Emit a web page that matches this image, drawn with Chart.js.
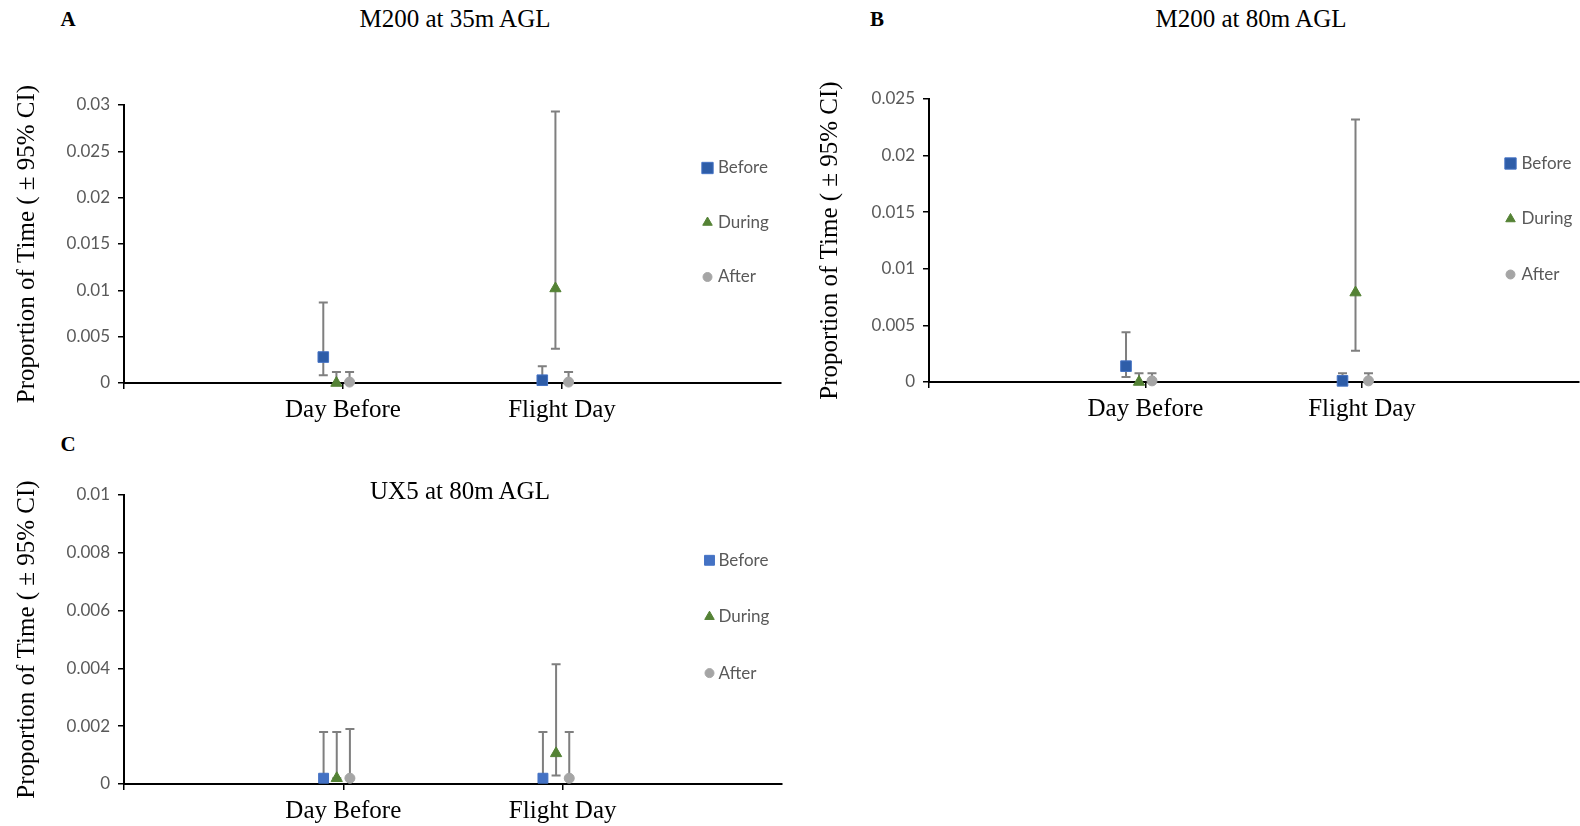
<!DOCTYPE html>
<html>
<head>
<meta charset="utf-8">
<script src="https://cdn.jsdelivr.net/npm/chart.js@4.4.1/dist/chart.umd.min.js"></script>
<style>
  html, body { margin: 0; padding: 0; background: #fff; overflow: hidden; width: 1580px; height: 826px; }
  canvas { position: absolute; }
  .lbl { position: absolute; font-family: "Liberation Serif", serif; color: #000; white-space: nowrap; transform: translate(-50%, -50%); }
  .panel { font-weight: bold; font-size: 21px; }
  .ttl { font-size: 25px; }
</style>
</head>
<body>
<div class="lbl panel" style="left:68px;top:19px">A</div>
<div class="lbl ttl" style="left:455px;top:19px">M200 at 35m AGL</div>
<div class="lbl panel" style="left:877px;top:19px">B</div>
<div class="lbl ttl" style="left:1251px;top:19px">M200 at 80m AGL</div>
<div class="lbl panel" style="left:68px;top:444px">C</div>

<canvas id="chartA" width="790" height="430" style="left:0;top:0"></canvas>
<canvas id="chartB" width="797" height="430" style="left:790px;top:0"></canvas>
<canvas id="chartC" width="790" height="406" style="left:0;top:420px"></canvas>
<div class="lbl ttl" style="left:460px;top:491px">UX5 at 80m AGL</div>

<script>
const categories = ["Day Before", "Flight Day"];
const seriesNames = ["Before", "During", "After"];

// A: M200 at 35m AGL
const aYMax = 0.03, aYStep = 0.005;
const aBefore     = [0.0028, 0.0003];
const aBeforeLow  = [0.00083, 0];
const aBeforeHigh = [0.0087, 0.0018];
const aDuring     = [0, 0.0102];
const aDuringLow  = [0, 0.0037];
const aDuringHigh = [0.0012, 0.0293];
const aAfter      = [0.0001, 0.0001];
const aAfterLow   = [0, 0];
const aAfterHigh  = [0.0012, 0.0012];

// B: M200 at 80m AGL
const bYMax = 0.025, bYStep = 0.005;
const bBefore     = [0.0014, 0.0001];
const bBeforeLow  = [0.00044, 0];
const bBeforeHigh = [0.0044, 0.00077];
const bDuring     = [0, 0.0079];
const bDuringLow  = [0, 0.00275];
const bDuringHigh = [0.00077, 0.0232];
const bAfter      = [0.0001, 0.0001];
const bAfterLow   = [0, 0];
const bAfterHigh  = [0.00077, 0.00077];

// C: UX5 at 80m AGL
const cYMax = 0.01, cYStep = 0.002;
const cBefore     = [0.0002, 0.0002];
const cBeforeLow  = [0.0002, 0.0002];
const cBeforeHigh = [0.0018, 0.0018];
const cDuring     = [0.0002, 0.00106];
const cDuringLow  = [0.0002, 0.00029];
const cDuringHigh = [0.0018, 0.00414];
const cAfter      = [0.0002, 0.0002];
const cAfterLow   = [0.0002, 0.0002];
const cAfterHigh  = [0.0019, 0.0018];

// marker look and small sideways shift of each series around its category
const xShift = [-0.09, -0.03, 0.03];
const pointStyles = ["rect", "triangle", "circle"];
const pointRadius = [7.5, 6.5, 5];
const greenCol = "#548235", greyCol = "#A5A5A5";

Chart.defaults.font.family = "Lato";

const errorBars = {
  id: "errorBars",
  beforeDatasetsDraw(chart) {
    const ctx = chart.ctx, xs = chart.scales.x, ys = chart.scales.y;
    ctx.save();
    ctx.strokeStyle = "#7F7F7F";
    ctx.lineWidth = 2;
    chart.data.datasets.forEach(ds => {
      ds.data.forEach((p, i) => {
        const x = xs.getPixelForValue(p.x);
        const hi = ys.getPixelForValue(ds.errHigh[i]);
        const lo = ys.getPixelForValue(ds.errLow[i]);
        const mid = ys.getPixelForValue(p.y);
        ctx.beginPath();
        ctx.moveTo(x, mid); ctx.lineTo(x, hi);
        ctx.moveTo(x - 4.5, hi); ctx.lineTo(x + 4.5, hi);
        if (ds.errLow[i] > 0) {
          ctx.moveTo(x, mid); ctx.lineTo(x, lo);
          ctx.moveTo(x - 4.5, lo); ctx.lineTo(x + 4.5, lo);
        }
        ctx.stroke();
      });
    });
    ctx.restore();
  }
};

const sideLegend = {
  id: "sideLegend",
  afterDatasetsDraw(chart, args, opts) {
    const ctx = chart.ctx;
    chart.data.datasets.forEach((ds, i) => {
      const y = opts.y + i * opts.gap;
      ctx.save();
      ctx.fillStyle = ds.backgroundColor;
      ctx.strokeStyle = ds.borderColor;
      ctx.lineWidth = 1;
      Chart.helpers.drawPoint(ctx, { pointStyle: ds.pointStyle, radius: opts.radius[i], rotation: 0, borderWidth: 1 }, opts.x, y);
      ctx.fillStyle = "#595959";
      ctx.font = "17px Lato";
      ctx.textAlign = "left";
      ctx.textBaseline = "middle";
      ctx.fillText(ds.label, opts.textX, y);
      ctx.restore();
    });
  }
};

function makePanel(id, p) {
  const canvas = document.getElementById(id);
  const W = canvas.width, H = canvas.height;
  const series = [
    { vals: p.before, low: p.beforeLow, high: p.beforeHigh, fill: p.blueFill, line: p.blueLine },
    { vals: p.during, low: p.duringLow, high: p.duringHigh, fill: greenCol, line: greenCol },
    { vals: p.after, low: p.afterLow, high: p.afterHigh, fill: greyCol, line: greyCol }
  ];
  const datasets = series.map((s, k) => ({
    label: seriesNames[k],
    data: categories.map((c, i) => ({ x: i + 1 + xShift[k], y: s.vals[i] })),
    errLow: s.low,
    errHigh: s.high,
    pointStyle: pointStyles[k],
    pointRadius: k === 0 ? p.squareR : pointRadius[k],
    backgroundColor: s.fill,
    borderColor: s.line,
    borderWidth: 1,
    showLine: false,
    clip: false
  }));

  new Chart(canvas, {
    type: "scatter",
    data: { datasets: datasets },
    plugins: [errorBars, sideLegend],
    options: {
      responsive: false,
      animation: false,
      events: [],
      layout: { padding: { top: p.top, right: W - p.right, left: 0, bottom: 0 } },
      plugins: {
        legend: { display: false },
        tooltip: { enabled: false },
        sideLegend: p.legend
      },
      scales: {
        x: {
          type: "linear",
          min: 0,
          max: categories.length + 1,
          afterBuildTicks: sc => { sc.ticks = [0].concat(categories.map((c, i) => i + 1)).map(v => ({ value: v })); },
          afterFit: sc => { sc.height = H - p.bottom; },
          ticks: {
            autoSkip: false,
            maxRotation: 0,
            padding: 6,
            color: "#000",
            font: { family: "Liberation Serif", size: 25 },
            callback: v => (v >= 1 && v <= categories.length) ? categories[v - 1] : ""
          },
          grid: { drawOnChartArea: false, tickLength: 6, color: "#000", lineWidth: 1.5 },
          border: { color: "#000", width: 2 }
        },
        y: {
          min: 0,
          max: p.yMax,
          afterFit: sc => { sc.width = p.left; },
          ticks: {
            stepSize: p.yStep,
            padding: 8,
            color: "#595959",
            font: { family: "Lato", size: 17 },
            callback: v => Number(v.toFixed(4)).toString()
          },
          grid: { drawOnChartArea: false, tickLength: 6, color: "#000", lineWidth: 1.5 },
          border: { color: "#000", width: 2 },
          title: {
            display: true,
            text: "Proportion of Time ( \u00B1 95% CI)",
            color: "#000",
            font: { family: "Liberation Serif", size: 25 },
            padding: { top: p.titlePad, bottom: 0 }
          }
        }
      }
    }
  });
}

makePanel("chartA", {
  left: 124, right: 781, top: 105, bottom: 383, yMax: aYMax, yStep: aYStep, titlePad: 12,
  before: aBefore, beforeLow: aBeforeLow, beforeHigh: aBeforeHigh,
  during: aDuring, duringLow: aDuringLow, duringHigh: aDuringHigh,
  after: aAfter, afterLow: aAfterLow, afterHigh: aAfterHigh,
  blueFill: "#2E5DA8", blueLine: "#4472C4", squareR: 7.5,
  legend: { x: 707.5, y: 168, gap: 54.5, textX: 718, radius: [8, 5.5, 4.5] }
});

makePanel("chartB", {
  left: 139, right: 797, top: 99, bottom: 382, yMax: bYMax, yStep: bYStep, titlePad: 25,
  before: bBefore, beforeLow: bBeforeLow, beforeHigh: bBeforeHigh,
  during: bDuring, duringLow: bDuringLow, duringHigh: bDuringHigh,
  after: bAfter, afterLow: bAfterLow, afterHigh: bAfterHigh,
  blueFill: "#2E5DA8", blueLine: "#4472C4", squareR: 7.5,
  legend: { x: 720.5, y: 163.5, gap: 55.5, textX: 731.5, radius: [8, 5.5, 4.5] }
});

makePanel("chartC", {
  left: 124, right: 783, top: 75, bottom: 364, yMax: cYMax, yStep: cYStep, titlePad: 12,
  before: cBefore, beforeLow: cBeforeLow, beforeHigh: cBeforeHigh,
  during: cDuring, duringLow: cDuringLow, duringHigh: cDuringHigh,
  after: cAfter, afterLow: cAfterLow, afterHigh: cAfterHigh,
  blueFill: "#4472C4", blueLine: "#4472C4", squareR: 7,
  legend: { x: 709.5, y: 140.3, gap: 56.4, textX: 718.5, radius: [7, 5.5, 4.5] }
});
</script>
</body>
</html>
